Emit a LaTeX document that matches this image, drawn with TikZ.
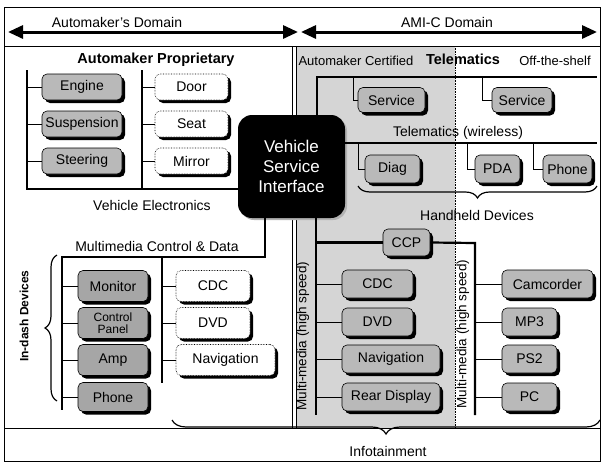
\documentclass[tikz,border=0pt]{standalone}
\usepackage{fontspec}
\setmainfont{Liberation Sans}
\usetikzlibrary{arrows.meta,shadows,decorations.pathreplacing,calc}
\begin{document}
\begin{tikzpicture}[x=1pt,y=-1pt,
  font=\fontsize{14}{16}\selectfont,
  bx/.style={rounded corners=5pt, draw=black, line width=0.6pt, inner sep=1pt,
    drop shadow={shadow xshift=3pt,shadow yshift=-3pt,fill=black,opacity=1}},
  gbx/.style={bx, fill=gray!55},
  dbx/.style={bx, fill=gray!70},
  wbx/.style={bx, fill=white, densely dotted},
  bus/.style={line width=2.2pt},
  stub/.style={line width=0.7pt},
  brc/.style={decorate, decoration={brace, amplitude=#1}, line width=1.2pt},
  lbl/.style={inner sep=0pt},
  dblarrow/.style={line width=3pt, {Triangle[length=15pt,width=13pt]}-{Triangle[length=15pt,width=13pt]}},
]
\useasboundingbox (0,0) rectangle (603,464);
% regions
\fill[gray!33] (296,46) rectangle (455,428);
\draw[line width=0.6pt] (4,7) rectangle (600,461);
\draw[line width=0.6pt] (4,46) -- (600,46);
\draw[line width=0.6pt] (4,428) -- (600,428);
\draw[line width=0.6pt] (292,46) -- (292,428);
\draw[line width=0.6pt] (296,46) -- (296,428);
\draw[line width=0.6pt, densely dotted] (455,46) -- (455,428);

% header
\node[lbl] (amd) at (117,22) {Automaker's Domain};
\node[lbl] (amic) at (447,22) {AMI-C Domain};
\coordinate (al1) at (8,32);
\coordinate (al2) at (298,32);
\coordinate (ar1) at (301,32);
\coordinate (ar2) at (597,32);
\draw[dblarrow] (al1) -- (al2);
\draw[dblarrow] (ar1) -- (ar2);

% labels
\node[lbl, font=\fontsize{14.5}{16}\selectfont\bfseries] (ap) at (156,60) {Automaker Proprietary};
\node[lbl, font=\fontsize{13}{15}\selectfont] (ac) at (356,61) {Automaker Certified};
\node[lbl, font=\fontsize{14.5}{16}\selectfont\bfseries] (tel) at (463,59) {Telematics};
\node[lbl, font=\fontsize{13}{15}\selectfont] (ots) at (555,61) {Off-the-shelf};
\node[lbl] (ve) at (152,205) {Vehicle Electronics};
\node[lbl] (mcd) at (157,246) {Multimedia Control \& Data};
\node[lbl] (tw) at (458,133) {Telematics (wireless)};
\node[lbl] (hd) at (477,215) {Handheld Devices};
\node[lbl] (inf) at (388,451) {Infotainment};
\node[lbl, rotate=90, font=\fontsize{12}{14}\selectfont\bfseries] (idd) at (24,316) {In-dash Devices};
\node[lbl, rotate=90, font=\fontsize{13.5}{15}\selectfont] (mm1) at (303,336) {Multi-media (high speed)};
\node[lbl, rotate=90, font=\fontsize{13.5}{15}\selectfont] (mm2) at (463,334) {Multi-media (high speed)};

% VSI
\node[rounded corners=14pt, fill=black, text=white, minimum width=107pt, minimum height=103pt,
  align=center, font=\fontsize{17}{20}\selectfont,
  drop shadow={shadow xshift=2pt,shadow yshift=-2pt,fill=gray!60,opacity=1}] (vsi) at (291.5,166.5) {Vehicle\\Service\\Interface};

% bus coordinates
\coordinate (b1t) at (27,70);
\coordinate (b1b) at (27,189);
\coordinate (b2t) at (142,70);
\coordinate (b2b) at (142,189);
\coordinate (m0) at (265,257);
\coordinate (m1) at (62,257);
\coordinate (m2) at (62,410);
\coordinate (m3t) at (162,257);
\coordinate (m3b) at (162,383);
\coordinate (t0) at (317,77);
\coordinate (t1) at (597,77);
\coordinate (w1) at (597,143);
\coordinate (mm0) at (316,415);
\coordinate (cc1) at (475,243);
\coordinate (cc2) at (475,415);
\coordinate (s1) at (353,77);
\coordinate (s2) at (482,77);
\coordinate (d1) at (358,143);
\coordinate (d2) at (467,143);
\coordinate (d3) at (533,143);

\draw[bus] (b1t) -- (b1b) -- (vsi.west |- b1b);
\draw[bus] (b2t) -- (b2b);
\draw[bus] (m0 |- vsi.south) -- (m0) -- (m1) -- (m2);
\draw[bus] (m3t) -- (m3b);
\draw[bus] (t0 |- vsi.north) -- (t0) -- (t1);
\draw[bus] (vsi.east |- w1) -- (w1);
\draw[bus] (mm0 |- vsi.south) -- (mm0);

% boxes
\node[gbx, minimum width=80pt, minimum height=26pt] (engine) at (82,87) {Engine};
\node[gbx, minimum width=80pt, minimum height=26pt] (susp) at (82,124) {Suspension};
\node[gbx, minimum width=80pt, minimum height=26pt] (steer) at (82,161) {Steering};
\node[wbx, minimum width=73pt, minimum height=26pt] (door) at (191.5,87) {Door};
\node[wbx, minimum width=73pt, minimum height=26pt] (seat) at (191.5,124) {Seat};
\node[wbx, minimum width=73pt, minimum height=26pt] (mirror) at (191.5,161) {Mirror};

\node[dbx, minimum width=70pt, minimum height=31pt] (monitor) at (113,286) {Monitor};
\node[dbx, minimum width=70pt, minimum height=31pt, align=center, font=\fontsize{12}{12}\selectfont] (ctrl) at (113,323) {Control\\Panel};
\node[dbx, minimum width=70pt, minimum height=31pt] (amp) at (113,360) {Amp};
\node[dbx, minimum width=70pt, minimum height=29pt] (phonea) at (113,397) {Phone};
\node[wbx, minimum width=74pt, minimum height=31pt] (cdca) at (213,286) {CDC};
\node[wbx, minimum width=74pt, minimum height=31pt] (dvda) at (213,323) {DVD};
\node[wbx, minimum width=99pt, minimum height=31pt] (nava) at (225.5,360) {Navigation};

\node[gbx, minimum width=67pt, minimum height=25pt] (svca) at (391.5,100) {Service};
\node[gbx, minimum width=55pt, minimum height=28pt] (diag) at (392.5,169) {Diag};
\node[gbx, minimum width=47pt, minimum height=27pt] (ccp) at (406.5,242.5) {CCP};
\node[gbx, minimum width=71pt, minimum height=28pt] (cdcb) at (377.5,284) {CDC};
\node[gbx, minimum width=71pt, minimum height=28pt] (dvdb) at (377.5,322) {DVD};
\node[gbx, minimum width=98pt, minimum height=28pt] (navb) at (391,359) {Navigation};
\node[gbx, minimum width=98pt, minimum height=28pt] (rear) at (391,397) {Rear Display};

\node[gbx, minimum width=60pt, minimum height=25pt] (svcb) at (522,100) {Service};
\node[gbx, minimum width=45pt, minimum height=28pt] (pda) at (497.5,169) {PDA};
\node[gbx, minimum width=49pt, minimum height=28pt] (phoneb) at (567.5,169) {Phone};
\node[gbx, minimum width=91pt, minimum height=28pt] (cam) at (547.5,284) {Camcorder};
\node[gbx, minimum width=55pt, minimum height=28pt] (mp3) at (529.5,322) {MP3};
\node[gbx, minimum width=55pt, minimum height=28pt] (ps2) at (529.5,359) {PS2};
\node[gbx, minimum width=55pt, minimum height=28pt] (pc) at (529.5,397) {PC};

% CCP link
\draw[bus] (mm0 |- ccp) -- (ccp.west);
\draw[bus] (ccp.east) -- (cc1) -- (cc2);

% stubs
\foreach \n in {engine,susp,steer} \draw[stub] (b1t |- \n) -- (\n.west);
\foreach \n in {door,seat,mirror} \draw[stub] (b2t |- \n) -- (\n.west);
\foreach \n in {monitor,ctrl,amp,phonea} \draw[stub] (m1 |- \n) -- (\n.west);
\foreach \n in {cdca,dvda,nava} \draw[stub] (m3t |- \n) -- (\n.west);
\foreach \n in {cdcb,dvdb,navb,rear} \draw[stub] (mm0 |- \n) -- (\n.west);
\foreach \n in {cam,mp3,ps2,pc} \draw[stub] (cc1 |- \n) -- (\n.west);
\draw[stub] (s1) |- (svca.west);
\draw[stub] (s2) |- (svcb.west);
\draw[stub] (d1) |- (diag.west);
\draw[stub] (d2) |- (pda.west);
\draw[stub] (d3) |- (phoneb.west);

% braces
\coordinate (br1a) at (57,401);
\coordinate (br1b) at (57,255);
\coordinate (br2a) at (597,186);
\coordinate (br2b) at (358,186);
\coordinate (br3a) at (600,420);
\coordinate (br3b) at (172,420);
\draw[brc=12pt] (br1a) -- (br1b);
\draw[brc=12pt] (br2a) -- (br2b);
\draw[brc=14pt] (br3a) -- (br3b);
\end{tikzpicture}
\end{document}
